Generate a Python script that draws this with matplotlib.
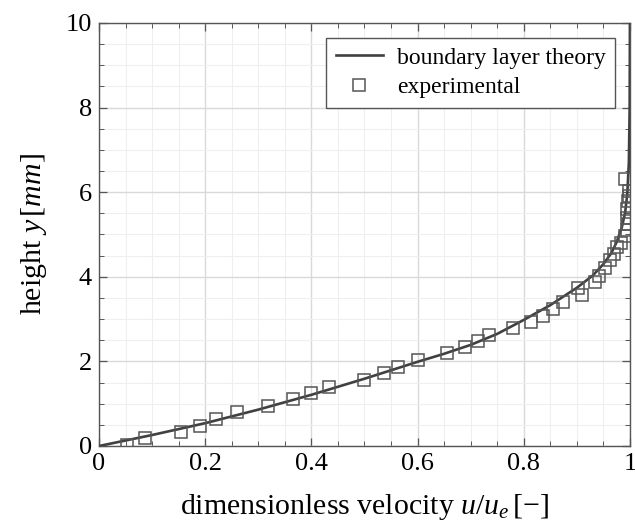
import matplotlib
matplotlib.use("Agg")
import matplotlib.pyplot as plt
from matplotlib.ticker import MultipleLocator

# boundary layer theory curve
theory_u = [0.0, 0.05, 0.1, 0.2, 0.3, 0.4, 0.5, 0.6, 0.65, 0.7, 0.75, 0.8, 0.85,
            0.9, 0.93, 0.95, 0.965, 0.975, 0.985, 0.991, 0.995, 0.998, 0.9995, 1.0]
theory_y = [0.0, 0.13, 0.26, 0.54, 0.86, 1.21, 1.59, 1.99, 2.18, 2.39, 2.65, 2.98, 3.33,
            3.74, 4.03, 4.30, 4.56, 4.82, 5.18, 5.52, 5.95, 6.70, 8.0, 10.0]

# experimental points
exp_u = [0.053, 0.087, 0.154, 0.19, 0.22, 0.259, 0.318, 0.366, 0.399, 0.433, 0.50,
         0.537, 0.563, 0.601, 0.655, 0.689, 0.714, 0.735, 0.780, 0.813, 0.836, 0.856,
         0.874, 0.909, 0.903, 0.934, 0.942, 0.953, 0.962, 0.970, 0.975, 0.984, 0.991,
         0.994, 0.996, 0.995, 0.994, 0.997, 0.998, 0.999, 0.991]
exp_y = [0.03, 0.18, 0.34, 0.48, 0.64, 0.80, 0.95, 1.10, 1.26, 1.40, 1.56,
         1.72, 1.87, 2.03, 2.19, 2.35, 2.49, 2.62, 2.78, 2.94, 3.08, 3.25,
         3.40, 3.56, 3.74, 3.88, 4.03, 4.20, 4.40, 4.55, 4.70, 4.80, 4.97,
         5.11, 5.25, 5.40, 5.60, 5.78, 5.90, 6.02, 6.31]

x_ticks = [0, 0.2, 0.4, 0.6, 0.8, 1.0]
x_ticklabels = ['0', '0.2', '0.4', '0.6', '0.8', '1']

plt.rcParams['font.family'] = ['Liberation Serif', 'DejaVu Serif']
plt.rcParams['mathtext.fontset'] = 'custom'
plt.rcParams['mathtext.rm'] = 'Liberation Serif'
plt.rcParams['mathtext.it'] = 'Liberation Serif:italic'

fig = plt.figure(figsize=(6.35, 5.22), dpi=100)
ax = fig.add_axes([0.156, 0.1456, 0.836, 0.8104])

ax.plot(theory_u, theory_y, color='#404040', lw=1.9, label='boundary layer theory', zorder=3)
ax.plot(exp_u, exp_y, ls='none', marker='s', ms=9, mfc='none', mec='#555555',
        mew=1.1, label='experimental', zorder=4)

ax.set_xlim(0, 1)
ax.set_ylim(0, 10)
ax.xaxis.set_minor_locator(MultipleLocator(0.05))
ax.yaxis.set_major_locator(MultipleLocator(2))
ax.yaxis.set_minor_locator(MultipleLocator(0.5))
ax.set_xticks(x_ticks)
ax.set_xticklabels(x_ticklabels)

ax.grid(which='major', color='#d9d9d9', lw=1.0)
ax.grid(which='minor', color='#efefef', lw=0.8)
ax.set_axisbelow(True)

ax.tick_params(which='both', direction='in', top=True, right=True, color='#555555')
ax.tick_params(which='major', length=6, width=0.9, labelsize=19, pad=5)
ax.tick_params(which='minor', length=3.5, width=0.7)
for s in ax.spines.values():
    s.set_color('#555555')
    s.set_linewidth(1.0)

ax.set_xlabel(r'dimensionless velocity $u/u_e\,[-]$', fontsize=21.5, labelpad=12)
ax.set_ylabel(r'height $y\,[mm]$', fontsize=21.5, labelpad=12)

leg = ax.legend(loc='upper right', fontsize=17, frameon=True, fancybox=False,
                edgecolor='#555555', framealpha=1, borderaxespad=0.62,
                handlelength=2.0, borderpad=0.4, labelspacing=0.35, handletextpad=0.6)
leg.get_frame().set_linewidth(1.0)

fig.savefig('out.png', dpi=100)
